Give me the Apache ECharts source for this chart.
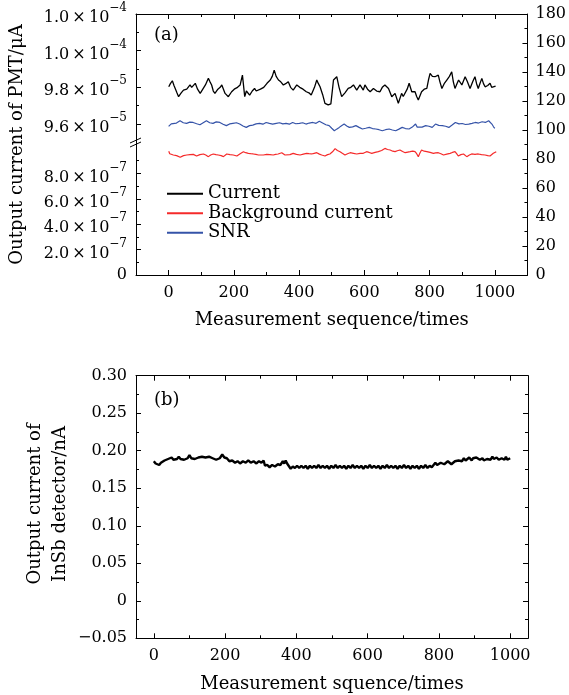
<!DOCTYPE html>
<html><head><meta charset="utf-8">
<script src="https://cdn.jsdelivr.net/npm/echarts@6/dist/echarts.min.js"></script>
<style>html,body{margin:0;padding:0;background:#fff}#c{width:569px;height:695px}</style>
</head><body><div id="c"></div>
<script>
const FONT = 'DejaVu Serif';
const xTicksMajor = [0, 200, 400, 600, 800, 1000];
const xTicksMinor = [100, 300, 500, 700, 900];
const upperLeftTicks = [9.6e-5, 9.8e-5, 1.0e-4, 1.02e-4];
const upperLeftMinor = [9.7e-5, 9.9e-5, 1.01e-4];
const lowerLeftTicks = [0, 2e-7, 4e-7, 6e-7, 8e-7];
const lowerLeftMinor = [1e-7, 3e-7, 5e-7, 7e-7, 9e-7];
const seriesNames = ['Current', 'Background current', 'SNR'];

// Current (left axis, upper part), μA
const currentData = [[0,9.803e-5],[5,9.82e-5],[11,9.836e-5],[16,9.81e-5],[20,9.80e-5],[25,9.77e-5],[30,9.749e-5],[38,9.77e-5],[45,9.785e-5],[55,9.79e-5],[65,9.813e-5],[70,9.80e-5],[75,9.794e-5],[81,9.822e-5],[88,9.79e-5],[96,9.767e-5],[104,9.79e-5],[112,9.813e-5],[121,9.849e-5],[126,9.83e-5],[131,9.813e-5],[136,9.78e-5],[141,9.767e-5],[150,9.79e-5],[157,9.80e-5],[162,9.813e-5],[167,9.79e-5],[172,9.767e-5],[177,9.77e-5],[182,9.749e-5],[192,9.776e-5],[200,9.79e-5],[210,9.80e-5],[218,9.813e-5],[225,9.867e-5],[232,9.749e-5],[237,9.78e-5],[242,9.776e-5],[247,9.758e-5],[255,9.78e-5],[262,9.794e-5],[267,9.78e-5],[272,9.776e-5],[280,9.79e-5],[290,9.80e-5],[300,9.822e-5],[310,9.840e-5],[316,9.86e-5],[322,9.894e-5],[328,9.86e-5],[335,9.840e-5],[342,9.83e-5],[350,9.813e-5],[357,9.82e-5],[365,9.831e-5],[372,9.80e-5],[380,9.785e-5],[391,9.813e-5],[400,9.80e-5],[410,9.79e-5],[420,9.776e-5],[428,9.77e-5],[435,9.758e-5],[445,9.80e-5],[452,9.840e-5],[457,9.82e-5],[462,9.803e-5],[470,9.76e-5],[477,9.713e-5],[482,9.71e-5],[487,9.704e-5],[495,9.71e-5],[500,9.79e-5],[503,9.840e-5],[513,9.858e-5],[520,9.80e-5],[528,9.749e-5],[538,9.77e-5],[548,9.794e-5],[556,9.80e-5],[564,9.813e-5],[574,9.785e-5],[584,9.813e-5],[594,9.785e-5],[599,9.813e-5],[607,9.79e-5],[615,9.776e-5],[625,9.794e-5],[635,9.78e-5],[645,9.776e-5],[652,9.80e-5],[660,9.813e-5],[671,9.794e-5],[681,9.749e-5],[691,9.767e-5],[701,9.713e-5],[711,9.767e-5],[716,9.75e-5],[722,9.740e-5],[728,9.79e-5],[734,9.822e-5],[742,9.776e-5],[752,9.776e-5],[757,9.75e-5],[762,9.731e-5],[772,9.776e-5],[780,9.79e-5],[788,9.794e-5],[793,9.84e-5],[798,9.876e-5],[805,9.86e-5],[813,9.858e-5],[823,9.867e-5],[828,9.83e-5],[834,9.794e-5],[841,9.82e-5],[849,9.840e-5],[857,9.86e-5],[864,9.885e-5],[869,9.83e-5],[874,9.794e-5],[880,9.82e-5],[885,9.840e-5],[895,9.813e-5],[905,9.858e-5],[912,9.83e-5],[920,9.794e-5],[928,9.83e-5],[935,9.858e-5],[940,9.82e-5],[945,9.794e-5],[950,9.82e-5],[956,9.849e-5],[961,9.82e-5],[966,9.803e-5],[974,9.81e-5],[981,9.822e-5],[986,9.80e-5],[991,9.794e-5],[998,9.807e-5]];

// Background current (left axis, lower part), μA
const backgroundData = [[0,0.975e-6],[3,0.955e-6],[8,0.950e-6],[14,0.945e-6],[24,0.940e-6],[35,0.927e-6],[45,0.940e-6],[55,0.945e-6],[65,0.948e-6],[75,0.950e-6],[85,0.937e-6],[95,0.948e-6],[106,0.953e-6],[113,0.945e-6],[121,0.932e-6],[128,0.945e-6],[136,0.953e-6],[144,0.948e-6],[151,0.945e-6],[160,0.940e-6],[167,0.932e-6],[177,0.953e-6],[187,0.948e-6],[197,0.945e-6],[208,0.937e-6],[218,0.955e-6],[228,0.971e-6],[235,0.963e-6],[243,0.958e-6],[250,0.955e-6],[258,0.953e-6],[266,0.950e-6],[274,0.945e-6],[279,0.932e-6],[289,0.945e-6],[299,0.950e-6],[309,0.948e-6],[319,0.945e-6],[326,0.950e-6],[334,0.953e-6],[340,0.958e-6],[345,0.963e-6],[350,0.952e-6],[355,0.945e-6],[360,0.932e-6],[370,0.948e-6],[380,0.958e-6],[390,0.950e-6],[401,0.945e-6],[411,0.952e-6],[421,0.958e-6],[428,0.955e-6],[436,0.953e-6],[444,0.958e-6],[452,0.963e-6],[460,0.952e-6],[467,0.945e-6],[477,0.937e-6],[485,0.948e-6],[492,0.953e-6],[500,0.970e-6],[508,0.995e-6],[515,0.980e-6],[523,0.971e-6],[530,0.958e-6],[538,0.945e-6],[546,0.955e-6],[554,0.963e-6],[564,0.958e-6],[574,0.953e-6],[584,0.958e-6],[594,0.958e-6],[604,0.971e-6],[612,0.965e-6],[620,0.958e-6],[630,0.965e-6],[640,0.971e-6],[650,0.980e-6],[660,0.997e-6],[668,0.988e-6],[676,0.984e-6],[684,0.975e-6],[691,0.971e-6],[698,0.978e-6],[706,0.984e-6],[714,0.972e-6],[722,0.963e-6],[730,0.968e-6],[737,0.971e-6],[745,0.975e-6],[752,0.971e-6],[757,0.955e-6],[762,0.932e-6],[767,0.960e-6],[772,0.984e-6],[780,0.975e-6],[788,0.971e-6],[798,0.965e-6],[808,0.958e-6],[815,0.962e-6],[823,0.963e-6],[831,0.955e-6],[839,0.945e-6],[849,0.952e-6],[859,0.958e-6],[866,0.965e-6],[874,0.971e-6],[879,0.955e-6],[884,0.937e-6],[892,0.948e-6],[900,0.953e-6],[905,0.945e-6],[910,0.932e-6],[918,0.945e-6],[925,0.953e-6],[935,0.950e-6],[945,0.953e-6],[955,0.948e-6],[966,0.945e-6],[974,0.940e-6],[981,0.937e-6],[986,0.945e-6],[991,0.958e-6],[1000,0.971e-6]];

// SNR (right axis)
const snrData = [[0,102.5],[2,103.6],[8,104.2],[14,105.2],[24,104.8],[35,106.4],[45,105.0],[55,104.6],[65,105.4],[75,105.2],[86,104.3],[96,103.6],[106,105.0],[116,106.4],[126,105.0],[136,104.6],[146,105.6],[157,105.2],[167,104.0],[177,103.0],[187,104.2],[197,104.6],[208,105.0],[218,104.1],[228,102.8],[238,101.8],[248,103.0],[258,103.4],[268,104.2],[279,104.6],[289,104.0],[299,105.2],[309,104.6],[319,104.1],[330,104.6],[340,105.0],[350,104.2],[360,104.6],[370,104.0],[380,105.2],[390,104.3],[401,104.6],[411,105.0],[421,104.1],[431,104.8],[442,105.2],[452,104.6],[462,106.0],[472,104.8],[482,103.6],[492,103.0],[500,101.2],[508,99.5],[515,100.6],[523,101.8],[530,103.0],[538,104.1],[546,102.8],[554,101.8],[564,102.2],[574,103.0],[584,101.8],[594,100.7],[604,101.2],[615,101.8],[625,101.0],[635,100.7],[645,100.2],[655,99.5],[665,100.2],[676,100.7],[686,100.0],[696,99.5],[706,100.6],[716,101.8],[726,101.0],[737,100.7],[747,102.0],[757,104.1],[762,102.0],[767,100.7],[777,102.0],[788,103.0],[798,102.6],[808,101.8],[813,103.0],[818,104.1],[828,103.2],[839,103.0],[849,102.6],[859,101.8],[869,103.4],[879,105.2],[890,104.2],[900,104.5],[910,103.8],[920,104.1],[930,104.6],[940,105.2],[950,104.8],[961,105.7],[971,105.2],[981,106.4],[986,105.8],[991,104.1],[996,102.2],[1000,101.1]];

// InSb detector output current, nA
const insbData = [[0,0.186],[5,0.183],[10,0.185],[15,0.181],[20,0.184],[25,0.183],[30,0.187],[35,0.186],[40,0.189],[45,0.187],[50,0.191],[55,0.188],[60,0.190],[65,0.189],[70,0.192],[75,0.189],[80,0.190],[85,0.188],[90,0.188],[95,0.190],[100,0.194],[105,0.190],[110,0.192],[115,0.189],[120,0.190],[125,0.191],[130,0.189],[135,0.192],[140,0.190],[145,0.191],[150,0.189],[155,0.192],[160,0.194],[165,0.190],[170,0.191],[175,0.188],[180,0.189],[185,0.190],[192,0.195],[198,0.191],[205,0.190],[212,0.186],[220,0.187],[228,0.184],[235,0.186],[242,0.183],[250,0.186],[258,0.184],[265,0.187],[272,0.184],[280,0.186],[288,0.183],[295,0.186],[302,0.184],[308,0.187],[312,0.180],[318,0.181],[325,0.178],[332,0.181],[340,0.179],[348,0.182],[355,0.181],[362,0.186],[366,0.183],[370,0.187],[374,0.183],[378,0.181],[384,0.176],[390,0.179],[396,0.177],[402,0.180],[408,0.177],[414,0.180],[420,0.177],[426,0.180],[432,0.176],[438,0.180],[444,0.177],[450,0.180],[456,0.177],[462,0.181],[468,0.177],[474,0.180],[480,0.177],[486,0.180],[492,0.176],[498,0.180],[504,0.177],[510,0.181],[516,0.177],[522,0.180],[528,0.177],[534,0.180],[540,0.176],[546,0.180],[552,0.177],[558,0.181],[564,0.177],[570,0.180],[576,0.177],[582,0.180],[588,0.176],[594,0.180],[600,0.177],[606,0.181],[612,0.177],[618,0.180],[624,0.177],[630,0.180],[636,0.176],[642,0.180],[648,0.177],[654,0.181],[660,0.177],[666,0.180],[672,0.177],[678,0.180],[684,0.176],[690,0.180],[696,0.177],[702,0.181],[708,0.177],[714,0.180],[720,0.176],[726,0.180],[732,0.177],[738,0.180],[744,0.176],[750,0.180],[756,0.177],[762,0.181],[768,0.177],[774,0.180],[780,0.178],[785,0.181],[790,0.184],[795,0.181],[800,0.182],[805,0.184],[810,0.185],[815,0.182],[820,0.183],[825,0.186],[830,0.185],[835,0.182],[840,0.182],[845,0.186],[850,0.184],[855,0.187],[860,0.189],[865,0.186],[870,0.190],[875,0.187],[880,0.188],[885,0.191],[892,0.187],[896,0.190],[900,0.189],[905,0.191],[910,0.192],[915,0.188],[922,0.190],[926,0.187],[930,0.186],[935,0.189],[940,0.190],[945,0.188],[950,0.192],[954,0.189],[958,0.189],[962,0.191],[965,0.191],[968,0.188],[972,0.187],[976,0.190],[980,0.190],[984,0.188],[988,0.192],[992,0.188],[996,0.190],[1000,0.190]];

const txt = { color: '#000', fontFamily: FONT, fontSize: 16 };
const titleTxt = { color: '#000', fontFamily: FONT, fontSize: 18 };
const blackLine = { show: true, onZero: false, lineStyle: { color: '#000', width: 1 } };
const noLine = { show: false, onZero: false };

function sci(v) {
  if (v === 0) return '0';
  const s = v.toExponential(1).split('e');
  const ex = Number(s[1]);
  return '{m|' + s[0] + '\u2009×\u200910}{e|' + (ex < 0 ? '−' + (-ex) : ex) + '}';
}
const sciRich = {
  m: { fontFamily: FONT, fontSize: 16, color: '#000', lineHeight: 24, verticalAlign: 'bottom' },
  e: { fontFamily: FONT, fontSize: 12, color: '#000', lineHeight: 11, verticalAlign: 'top' }
};

function xAx(grid, pos, min, max, opts) {
  return Object.assign({
    type: 'value', gridIndex: grid, position: pos, min: min, max: max,
    axisLine: noLine, splitLine: { show: false },
    axisLabel: { show: false }, axisTick: { show: false }
  }, opts);
}
function majorTicks(vals) { return { show: true, inside: true, length: 5, customValues: vals, lineStyle: { color: '#000', width: 1 } }; }
function minorTicks(vals) { return { show: true, inside: true, length: 3, customValues: vals, lineStyle: { color: '#000', width: 1 } }; }
const xLabel = Object.assign({ show: true, margin: 10, customValues: xTicksMajor, formatter: v => String(v) }, txt);

const xAxis = [
  // grid 0 (panel a, full)
  xAx(0, 'bottom', -100, 1100, { axisLine: blackLine, axisTick: majorTicks(xTicksMajor), axisLabel: xLabel,
    name: 'Measurement sequence/times', nameLocation: 'middle', nameGap: 36, nameTextStyle: titleTxt }),
  xAx(0, 'bottom', -100, 1100, { axisTick: minorTicks(xTicksMinor) }),
  xAx(0, 'top', -100, 1100, { axisLine: blackLine, axisTick: majorTicks(xTicksMajor) }),
  xAx(0, 'top', -100, 1100, { axisTick: minorTicks(xTicksMinor) }),
  // grid 1 (upper), grid 2 (lower)
  xAx(1, 'bottom', -100, 1100, { show: false }),
  xAx(2, 'bottom', -100, 1100, { show: false }),
  // grid 3 (panel b)
  xAx(3, 'bottom', -50, 1050, { axisLine: blackLine, axisTick: majorTicks(xTicksMajor), axisLabel: xLabel,
    name: 'Measurement squence/times', nameLocation: 'middle', nameGap: 37, nameTextStyle: titleTxt }),
  xAx(3, 'bottom', -50, 1050, { axisTick: minorTicks(xTicksMinor) }),
  xAx(3, 'top', -50, 1050, { axisLine: blackLine, axisTick: majorTicks(xTicksMajor) }),
  xAx(3, 'top', -50, 1050, { axisTick: minorTicks(xTicksMinor) })
];

const yAxis = [
  // 0: right SNR axis
  { type: 'value', gridIndex: 0, position: 'right', min: 0, max: 180, interval: 20,
    axisLine: blackLine, splitLine: { show: false },
    axisTick: { show: true, inside: true, length: 5, lineStyle: { color: '#000' } },
    minorTick: { show: true, splitNumber: 2, length: 3, lineStyle: { color: '#000' } },
    axisLabel: Object.assign({ margin: 8 }, txt) },
  // 1: name carrier for left axis of panel a
  { type: 'value', gridIndex: 0, position: 'left', min: 0, max: 1,
    axisLine: noLine, axisTick: { show: false }, axisLabel: { show: false }, splitLine: { show: false },
    name: 'Output current of PMT/μA', nameLocation: 'middle', nameGap: 110, nameTextStyle: titleTxt },
  // 2: upper left
  { type: 'value', gridIndex: 1, position: 'left', min: 9.5e-5, max: 1.02e-4,
    axisLine: blackLine, splitLine: { show: false }, axisTick: majorTicks(upperLeftTicks),
    axisLabel: { show: true, margin: 9, customValues: upperLeftTicks, formatter: sci, rich: sciRich } },
  // 3: upper left minor
  { type: 'value', gridIndex: 1, position: 'left', min: 9.5e-5, max: 1.02e-4,
    axisLine: noLine, splitLine: { show: false }, axisTick: minorTicks(upperLeftMinor), axisLabel: { show: false } },
  // 4: lower left
  { type: 'value', gridIndex: 2, position: 'left', min: 0, max: 1.0445e-6,
    axisLine: blackLine, splitLine: { show: false }, axisTick: majorTicks(lowerLeftTicks),
    axisLabel: { show: true, margin: 9, customValues: lowerLeftTicks, formatter: sci, rich: sciRich, color: '#000', fontFamily: FONT, fontSize: 16 } },
  // 5: lower left minor
  { type: 'value', gridIndex: 2, position: 'left', min: 0, max: 1.0445e-6,
    axisLine: noLine, splitLine: { show: false }, axisTick: minorTicks(lowerLeftMinor), axisLabel: { show: false } },
  // 6: panel b left
  { type: 'value', gridIndex: 3, position: 'left', min: -0.05, max: 0.30, interval: 0.05,
    axisLine: blackLine, splitLine: { show: false },
    axisTick: { show: true, inside: true, length: 5, lineStyle: { color: '#000' } },
    minorTick: { show: true, splitNumber: 2, length: 3, lineStyle: { color: '#000' } },
    axisLabel: Object.assign({ margin: 9, formatter: v => Math.abs(v) < 1e-9 ? '0' : (v < 0 ? '−' + Math.abs(v).toFixed(2) : v.toFixed(2)) }, txt) },
  // 7: panel b right mirror
  { type: 'value', gridIndex: 3, position: 'right', min: -0.05, max: 0.30, interval: 0.05,
    axisLine: blackLine, splitLine: { show: false },
    axisTick: { show: true, inside: true, length: 5, lineStyle: { color: '#000' } },
    minorTick: { show: true, splitNumber: 2, length: 3, lineStyle: { color: '#000' } },
    axisLabel: { show: false } }
];

const chart = echarts.init(document.getElementById('c'), null, { renderer: 'canvas' });
chart.setOption({
  animation: false,
  backgroundColor: '#fff',
  textStyle: { fontFamily: FONT },
  grid: [
    { left: 136, top: 14, width: 393, height: 261 },
    { left: 136, top: 14, width: 393, height: 128.35 },
    { left: 136, top: 142.35, width: 393, height: 132.65 },
    { left: 136, top: 375.7, width: 392, height: 262.6 }
  ],
  xAxis: xAxis,
  yAxis: yAxis,
  legend: {
    data: seriesNames, orient: 'vertical', left: 166, top: 184,
    itemWidth: 36, itemHeight: 14, itemGap: 0, itemStyle: { opacity: 0 },
    textStyle: { color: '#000', fontFamily: FONT, fontSize: 18, lineHeight: 19.5 }, padding: 0
  },
  series: [
    { name: seriesNames[0], type: 'line', xAxisIndex: 4, yAxisIndex: 2, data: currentData,
      symbol: 'none', lineStyle: { color: '#000', width: 1.3 }, itemStyle: { color: '#000' } },
    { name: seriesNames[1], type: 'line', xAxisIndex: 5, yAxisIndex: 4, data: backgroundData,
      symbol: 'none', lineStyle: { color: '#f52a2a', width: 1.2 }, itemStyle: { color: '#f52a2a' } },
    { name: seriesNames[2], type: 'line', xAxisIndex: 0, yAxisIndex: 0, data: snrData,
      symbol: 'none', lineStyle: { color: '#3553a8', width: 1.2 }, itemStyle: { color: '#3553a8' } },
    { name: 'InSb', type: 'line', xAxisIndex: 6, yAxisIndex: 6, data: insbData,
      symbol: 'none', lineStyle: { color: '#000', width: 2.4 }, itemStyle: { color: '#000' } }
  ],
  graphic: [
    { type: 'text', left: 154, top: 26, style: { text: '(a)', fill: '#000', font: '18px "DejaVu Serif"' } },
    { type: 'text', left: 154, top: 391, style: { text: '(b)', fill: '#000', font: '18px "DejaVu Serif"' } },
    { type: 'text', x: 48, y: 504, rotation: Math.PI / 2,
      style: { text: 'Output current of\nInSb detector/nA', fill: '#000', font: '18px "DejaVu Serif"',
               lineHeight: 25, align: 'center', verticalAlign: 'middle' } },
    { type: 'rect', shape: { x: 134, y: 141, width: 4, height: 3 }, style: { fill: '#fff' } },
    { type: 'line', shape: { x1: 130, y1: 143, x2: 141, y2: 138 }, style: { stroke: '#000', lineWidth: 1 } },
    { type: 'line', shape: { x1: 130, y1: 147, x2: 141, y2: 142 }, style: { stroke: '#000', lineWidth: 1 } }
  ]
});
</script>
</body></html>
